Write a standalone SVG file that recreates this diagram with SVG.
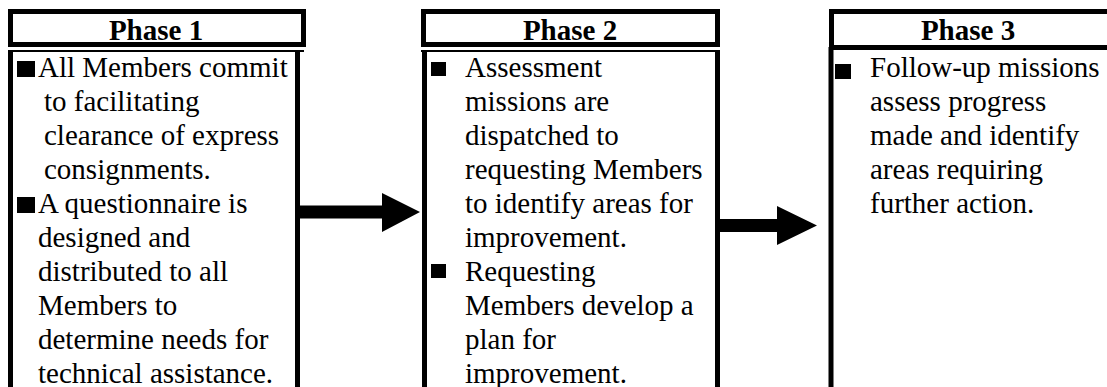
<svg xmlns="http://www.w3.org/2000/svg" width="1107" height="387" viewBox="0 0 1107 387">
  <style>
    .frame { fill: none; stroke: #000; stroke-width: 5; }
    .rule { fill: none; stroke: #000; stroke-width: 2; }
    text { font-family: "Liberation Serif", "Times New Roman", "DejaVu Serif", serif; fill: #000; }
    .head { font-weight: bold; font-size: 29px; text-anchor: middle; }
    .body { font-weight: normal; font-size: 29px; }
    .bullet { fill: #000; }
    .arrow { fill: #000; }
  </style>
  <rect width="1107" height="387" fill="#fff"/>

  <!-- Phase 1 -->
  <g id="phase1">
    <rect class="frame" x="10.5" y="11.5" width="293" height="33"/>
    <line class="rule" x1="8" y1="51" x2="304" y2="51"/>
    <line class="frame" x1="10.5" y1="50" x2="10.5" y2="390"/>
    <line class="frame" x1="297.5" y1="50" x2="297.5" y2="390"/>
    <text class="head" x="156" y="40" font-family="Liberation Serif, serif">Phase 1</text>
    <rect class="bullet" x="17" y="61" width="18" height="16"/>
    <text class="body" x="38" y="77" font-family="Liberation Serif, serif">All Members commit</text>
    <text class="body" x="44" y="111" font-family="Liberation Serif, serif">to facilitating</text>
    <text class="body" x="44" y="145" font-family="Liberation Serif, serif">clearance of express</text>
    <text class="body" x="44" y="179" font-family="Liberation Serif, serif">consignments.</text>
    <rect class="bullet" x="17" y="197" width="18" height="16"/>
    <text class="body" x="38" y="213" font-family="Liberation Serif, serif">A questionnaire is</text>
    <text class="body" x="38" y="247" font-family="Liberation Serif, serif">designed and</text>
    <text class="body" x="38" y="281" font-family="Liberation Serif, serif">distributed to all</text>
    <text class="body" x="38" y="315" font-family="Liberation Serif, serif">Members to</text>
    <text class="body" x="38" y="349" font-family="Liberation Serif, serif">determine needs for</text>
    <text class="body" x="38" y="383" font-family="Liberation Serif, serif">technical assistance.</text>
  </g>

  <!-- Phase 2 -->
  <g id="phase2">
    <rect class="frame" x="423.5" y="11.5" width="294" height="33"/>
    <line class="rule" x1="421" y1="51" x2="720" y2="51"/>
    <line class="frame" x1="424.5" y1="50" x2="424.5" y2="390"/>
    <line class="frame" x1="717.5" y1="50" x2="717.5" y2="390"/>
    <text class="head" x="570" y="40" font-family="Liberation Serif, serif">Phase 2</text>
    <rect class="bullet" x="431" y="62" width="15" height="14"/>
    <text class="body" x="465" y="77" font-family="Liberation Serif, serif">Assessment</text>
    <text class="body" x="465" y="111" font-family="Liberation Serif, serif">missions are</text>
    <text class="body" x="465" y="145" font-family="Liberation Serif, serif">dispatched to</text>
    <text class="body" x="465" y="179" font-family="Liberation Serif, serif">requesting Members</text>
    <text class="body" x="465" y="213" font-family="Liberation Serif, serif">to identify areas for</text>
    <text class="body" x="465" y="247" font-family="Liberation Serif, serif">improvement.</text>
    <rect class="bullet" x="431" y="264" width="15" height="14"/>
    <text class="body" x="465" y="281" font-family="Liberation Serif, serif">Requesting</text>
    <text class="body" x="465" y="315" font-family="Liberation Serif, serif">Members develop a</text>
    <text class="body" x="465" y="349" font-family="Liberation Serif, serif">plan for</text>
    <text class="body" x="465" y="383" font-family="Liberation Serif, serif">improvement.</text>
  </g>

  <!-- Phase 3 -->
  <g id="phase3">
    <rect class="frame" x="831.5" y="11.5" width="300" height="36"/>
    <line class="frame" x1="831" y1="47" x2="831" y2="390"/>
    <text class="head" x="968" y="40" font-family="Liberation Serif, serif">Phase 3</text>
    <rect class="bullet" x="835" y="64" width="16" height="15"/>
    <text class="body" x="870" y="77" font-family="Liberation Serif, serif">Follow-up missions</text>
    <text class="body" x="870" y="111" font-family="Liberation Serif, serif">assess progress</text>
    <text class="body" x="870" y="145" font-family="Liberation Serif, serif">made and identify</text>
    <text class="body" x="870" y="179" font-family="Liberation Serif, serif">areas requiring</text>
    <text class="body" x="870" y="213" font-family="Liberation Serif, serif">further action.</text>
  </g>

  <!-- Block arrows between phases -->
  <g id="connectors">
    <polygon class="arrow" points="300,205.5 382,205.5 382,193 420,212 382,232 382,218.5 300,218.5"/>
    <polygon class="arrow" points="720,219 777,219 777,206 817,225.5 777,245 777,232 720,232"/>
  </g>
</svg>
